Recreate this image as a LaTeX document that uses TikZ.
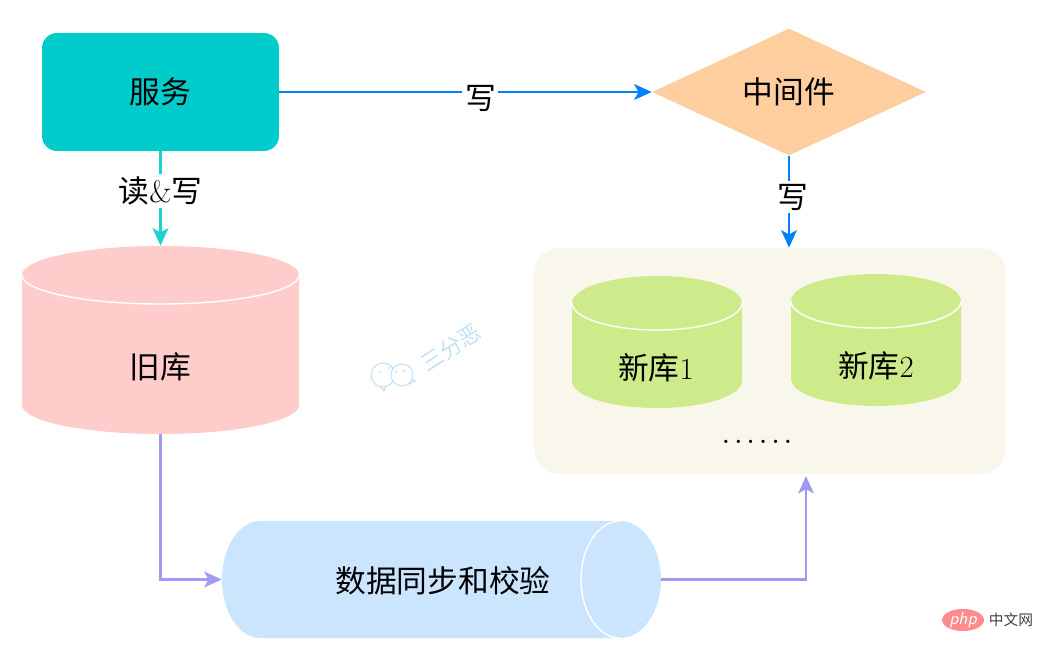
\documentclass[tikz,border=0pt]{standalone}
\usepackage{fontspec}
\usetikzlibrary{shapes.geometric,arrows.meta}
\newfontfamily\cjk{Noto Sans CJK SC}
\definecolor{svcteal}{HTML}{00CCCC}
\definecolor{midorange}{HTML}{FFCE9F}
\definecolor{oldpink}{HTML}{FFCCCC}
\definecolor{newgreen}{HTML}{CDEB8B}
\definecolor{pipeblue}{HTML}{CCE5FF}
\definecolor{panelcream}{HTML}{F9F7EC}
\definecolor{linkblue}{HTML}{007FFF}
\definecolor{linkteal}{HTML}{19D3CC}
\definecolor{linkpurple}{HTML}{9F9BF5}
\definecolor{markblue}{HTML}{C4DFF5}
\tikzset{
  txt/.style={font=\cjk\fontsize{17.5}{20}\selectfont,text=black},
  lbl/.style={txt,fill=white,inner sep=1.5pt},
  link/.style={line width=1.2pt,-{Stealth[length=10pt,width=9pt,inset=2.5pt]}},
  rim/.style={white,line width=0.8pt},
}
% left, right, y of top rim, y of bottom rim, rim radius, colour
\newcommand{\dbbody}[6]{
   \fill [#6] (#1,#3) arc [start angle=180,end angle=360,x radius={(#2-#1)/2},y radius=#5]
     -- (#2,#4) arc [start angle=0,end angle=180,x radius={(#2-#1)/2},y radius=#5] -- cycle;
   \draw [rim] (#1,#3) arc [start angle=-180,end angle=-360,x radius={(#2-#1)/2},y radius=#5];
}
\begin{document}
\begin{tikzpicture}[x=0.02cm,y=-0.02cm]
   \useasboundingbox (0,0) rectangle (1042,653);
   % panel behind the new databases
   \node (panel) [fill=panelcream,rounded corners=0.5cm,minimum width=9.44cm,minimum height=4.52cm,inner sep=0pt] at (770,361) {};
   \coordinate (panelIn) at (806,476);
   % upper row
   \node (svc) [fill=svcteal,rounded corners=0.3cm,minimum width=4.74cm,minimum height=2.36cm,inner sep=0pt,txt] at (160.5,92) {服务};
   \node (mid) [diamond,fill=midorange,aspect=2.16,minimum width=5.48cm,minimum height=2.54cm,inner sep=0pt,txt] at (789,92) {中间件};
   % databases
   \dbbody{22}{299}{275}{405}{29}{oldpink}
   \node (oldDb) [minimum width=5.54cm,minimum height=3.76cm,inner sep=0pt,txt] at (160.5,340) {};
   \node (oldTxt) [txt] at (160,367) {旧库};
   \dbbody{572}{742}{303}{381}{27}{newgreen}
   \node (newDbA) [txt] at (656,368) {新库{\rmfamily 1}};
   \dbbody{791}{961}{301}{379}{27}{newgreen}
   \node (newDbB) [txt] at (876,366) {新库{\rmfamily 2}};
   \node (more) [font=\bfseries\fontsize{13}{15}\selectfont] at (757,442) {.\kern3pt.\kern3pt.\kern3pt.\kern3pt.\kern3pt.};
   % pipe
   \fill [pipeblue] (260,521) -- (620,521) arc [start angle=-90,end angle=90,x radius=41,y radius=58.5]
     -- (260,638) arc [start angle=90,end angle=270,x radius=38,y radius=58.5] -- cycle;
   \draw [rim] (620,521) arc [start angle=-90,end angle=-270,x radius=39,y radius=58.5];
   \node (pipe) [minimum width=8.78cm,minimum height=2.34cm,inner sep=0pt,txt] at (441.5,579.5) {};
   \node (pipeTxt) [txt] at (443,581) {数据同步和校验};
   % connectors
   \draw [link,linkblue] (svc.east) -- node (lblA) [lbl,pos=0.54,yshift=-0.13cm] {写} (mid.west);
   \draw [link,linkteal] (svc.south) -- node (lblB) [lbl,pos=0.42] {读{\rmfamily\&}写} (oldDb.north);
   \draw [link,linkblue] (mid.south) -- node (lblC) [lbl,pos=0.45,xshift=0.08cm] {写} (panel.north -| mid.south);
   \draw [link,linkpurple] (oldDb.south) |- (pipe.west);
   \draw [link,linkpurple] (pipe.east) -| (panelIn);
   % watermark
   \draw [markblue,line width=0.6pt,fill=white] (377,383) -- (384,391) -- (387,383) -- cycle;
   \draw [markblue,line width=0.6pt,fill=white] (383,375) circle [radius=12];
   \draw [markblue,line width=0.6pt,fill=white] (410,378) -- (415,381) -- (409,384) -- cycle;
   \draw [markblue,line width=0.6pt,fill=white] (402,375) circle [radius=11];
   \foreach \dotx/\doty in {380/372,389/368,396/372,404/371}
     \fill [markblue] (\dotx,\doty) circle [radius=1.2];
   \node (mark) [rotate=33,text=markblue,font=\cjk\fontsize{12.5}{14}\selectfont] at (451,348) {三分恶};
   % site logo
   \node (logo) [ellipse,fill=red!45!white,minimum width=0.84cm,minimum height=0.42cm,inner sep=0pt,text=white,font=\itshape\sffamily\fontsize{10}{11}\selectfont] at (963,620) {php};
   \node (logoTxt) [font=\cjk\fontsize{8.4}{10}\selectfont,text=black!75] at (1011,620) {中文网};
 \end{tikzpicture}
\end{document}
